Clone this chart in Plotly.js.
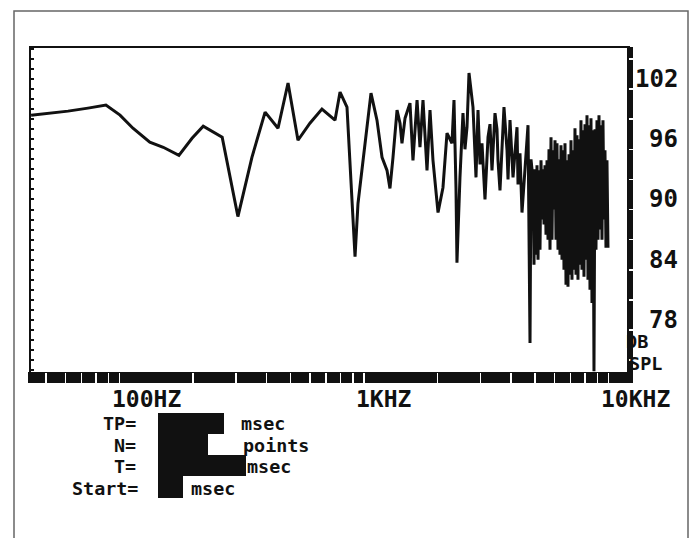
<!DOCTYPE html>
<html>
<head>
<meta charset="utf-8">
<script src="https://cdn.plot.ly/plotly-3.0.1.min.js"></script>
<style>html,body{margin:0;padding:0;background:#fff;}#chart{width:699px;height:538px;}</style>
</head>
<body>
<div id="chart"></div>
<script>
// Frequency response (Hz) and level (dB SPL)
const freqHz = [
  43.5, 52.0, 61.6, 74.3, 88.0, 100.5, 113.5, 133, 151, 175, 198, 220, 255, 263, 305, 348, 394, 445, 489, 537,
  601, 673, 761, 798, 852, 893, 919, 945, 991, 1068, 1130, 1185, 1242, 1277, 1314, 1365, 1404, 1430, 1472, 1542,
  1586, 1648, 1694, 1743, 1810, 1862, 1915, 1989, 2008, 2104, 2185, 2290, 2334, 2378, 2400, 2469, 2540, 2588, 2638, 2688,
  2791, 2871, 2926, 2982, 3038, 3125, 3215, 3276, 3338, 3434, 3499, 3532, 3599, 3737, 3845, 3882, 3955, 4069, 4225, 4265,
  4345, 4428, 4555, 4686, 4775,
  4820, 4866, 4912, 4958, 5005, 5053, 5100, 5149, 5197, 5246, 5296, 5346, 5397, 5448, 5499, 5551, 5604, 5657, 5710, 5764,
  5819, 5874, 5929, 5985, 6042, 6099, 6157, 6215, 6274, 6333, 6393, 6453, 6514, 6576, 6638, 6701, 6764, 6828, 6893, 6958,
  7024, 7090, 7157, 7225, 7293, 7362, 7432, 7502, 7573, 7645, 7717, 7790, 7864, 7938, 8013, 8089, 8166, 8243, 8321, 8400,
  8479, 8559, 8640, 8722, 8805, 8888, 8972, 9057, 9143, 9229, 9316, 9405, 9493, 9583, 9674, 9765, 9858, 9951
];
const splDb = [
  98.4, 98.6, 98.8, 99.1, 99.4, 98.4, 97.1, 95.7, 95.2, 94.4, 96.1, 97.3, 96.4, 96.2, 88.3, 94.2, 98.7, 97.1, 101.6, 95.9,
  97.6, 99.0, 97.9, 100.7, 99.2, 89.6, 84.3, 89.6, 93.9, 100.6, 97.9, 94.2, 92.9, 91.1, 94.2, 98.9, 97.6, 95.6, 98.1, 99.6,
  93.9, 99.9, 95.2, 99.9, 92.9, 98.9, 93.9, 89.3, 88.7, 91.2, 96.6, 95.6, 99.9, 91.2, 83.7, 92.2, 98.6, 95.0, 97.2, 102.6,
  99.2, 92.2, 98.9, 93.5, 95.6, 90.0, 96.2, 97.5, 92.9, 98.6, 97.0, 93.9, 90.9, 99.2, 94.9, 92.0, 97.9, 92.2, 97.2, 91.5,
  94.6, 88.7, 92.9, 97.4, 75.7,
  94.0, 93.0, 92.6, 83.5, 93.0, 84.5, 93.4, 84.0, 92.9, 85.0, 93.9, 88.0, 93.0, 87.5, 93.4, 86.5, 93.9, 86.0, 95.0, 85.0,
  96.2, 86.0, 94.9, 89.0, 95.9, 86.0, 95.6, 85.0, 94.0, 84.5, 95.4, 84.0, 94.9, 83.0, 95.6, 81.5, 93.9, 81.3, 94.5, 82.5,
  95.9, 82.0, 94.9, 83.0, 97.1, 82.5, 96.4, 82.0, 96.0, 83.5, 97.9, 83.0, 96.9, 82.3, 97.5, 84.0, 98.4, 82.0, 97.4, 81.0,
  98.1, 79.7, 96.9, 72.9, 97.0, 85.0, 97.9, 86.0, 98.4, 87.0, 97.4, 86.0, 97.9, 88.0, 94.9, 85.2, 93.9, 85.2
];
const xTickValues = [100, 1000, 10000];
const xTickLabels = ['100HZ', '1KHZ', '10KHZ'];
const yTickValues = [102, 96, 90, 84, 78];
const yTickLabels = ['102', '96', '90', '84', '78'];
const minorFreqs = [50,60,70,80,90,100,200,300,400,500,600,700,800,900,1000,2000,3000,4000,5000,6000,7000,8000,9000,10000];
const infoLabels = ['TP=', 'N=', 'T=', 'Start='];
const infoUnits = ['msec', 'points', 'msec', 'msec'];

// plot area in pixels: x 30..628, y 47..372
const L = 30, R = 628, T = 47, B = 372;
const px = x => (x - L) / (R - L);
const py = y => (B - y) / (B - T);

const FAM = 'DejaVu Sans Mono';
const font = s => ({family: FAM, size: s, color: '#111', weight: 'bold'});

const annotations = [];
xTickValues.forEach((v, i) => annotations.push({
  xref: 'x', yref: 'paper', x: Math.log10(v), y: py(399), text: xTickLabels[i],
  xanchor: 'left', yanchor: 'middle', xshift: -9, showarrow: false, borderpad: 0, font: font(23)
}));
yTickValues.forEach((v, i) => annotations.push({
  xref: 'paper', yref: 'y', x: px(679), y: v, text: yTickLabels[i],
  xanchor: 'right', yanchor: 'middle', showarrow: false, borderpad: 0, font: font(24)
}));
annotations.push({xref:'paper', yref:'paper', x: px(625), y: py(341), text:'DB', xanchor:'left', yanchor:'middle', showarrow:false, borderpad:0, font: font(18.5)});
annotations.push({xref:'paper', yref:'paper', x: px(628), y: py(363.5), text:'SPL', xanchor:'left', yanchor:'middle', showarrow:false, borderpad:0, font: font(18.5)});

const rowY = [423.5, 445, 466.5, 488];
const labelRight = [137, 137, 137, 139];
const unitLeft = [240, 242, 246, 190];
infoLabels.forEach((t, i) => {
  annotations.push({xref:'paper', yref:'paper', x: px(labelRight[i]), y: py(rowY[i]), text: t,
    xanchor:'right', yanchor:'middle', showarrow:false, borderpad:0, font: font(18.4)});
  annotations.push({xref:'paper', yref:'paper', x: px(unitLeft[i]), y: py(rowY[i]), text: infoUnits[i],
    xanchor:'left', yanchor:'middle', showarrow:false, borderpad:0, font: font(18.4)});
});

const rectPx = (x0, y0, x1, y1, extra) => Object.assign({
  type:'rect', xref:'paper', yref:'paper', x0: px(x0), x1: px(x1), y0: py(y1), y1: py(y0),
  fillcolor:'#111', line:{width:0}, layer:'below'
}, extra || {});

const shapes = [
  // outer frame
  {type:'rect', xref:'paper', yref:'paper', x0: px(14), x1: px(688), y0: py(560), y1: py(11),
   line:{color:'#666', width:1.5}, fillcolor:'rgba(0,0,0,0)', layer:'below'},
  // bottom thick bar
  rectPx(28, 372, 633, 383),
  // right thick bar
  rectPx(627, 47, 633, 383),
  // top border
  rectPx(29, 46, 630, 48),
  // left border
  rectPx(29, 46, 31, 383),
  // redacted value fields
  rectPx(158, 413, 224, 434, {layer:'above'}),
  rectPx(158, 434, 208, 455, {layer:'above'}),
  rectPx(158, 455, 246, 476, {layer:'above'}),
  rectPx(158, 476, 183, 498, {layer:'above'})
];

const yRange = [102 - (B - 79) / 10.04, 102 + (79 - T) / 10.04];
const xRange = [2 + (L - 119.5) / 244.5, 2 + (R - 119.5) / 244.5];

const traces = [
  {x: freqHz, y: splDb, type:'scatter', mode:'lines', line:{color:'#111', width:3}, hoverinfo:'skip'},
  {x: freqHz, y: splDb, type:'scatter', mode:'lines', line:{color:'rgba(0,0,0,0)', width:0}, hoverinfo:'skip', yaxis:'y2', showlegend:false}
];

const layout = {
  width: 699, height: 538,
  margin: {l: L, r: 699 - R, t: T, b: 538 - B, pad: 0},
  paper_bgcolor:'#fff', plot_bgcolor:'#fff',
  showlegend:false,
  xaxis: {type:'log', range: xRange, showgrid:false, zeroline:false, showline:false,
    ticks:'outside', ticklen:11, tickwidth:1.5, tickcolor:'#fff', tickvals: minorFreqs, showticklabels:false, fixedrange:true},
  yaxis: {range: yRange, showgrid:false, zeroline:false, showline:false,
    ticks:'inside', ticklen:4, tickwidth:2, tickcolor:'#111', tick0:0, dtick:1, showticklabels:false, fixedrange:true},
  yaxis2: {range: yRange, overlaying:'y', side:'right', showgrid:false, zeroline:false, showline:false,
    ticks:'outside', ticklen:6, tickwidth:1.5, tickcolor:'#fff', tick0:98, dtick:3, showticklabels:false, fixedrange:true},
  annotations, shapes
};

Plotly.newPlot('chart', traces, layout, {displayModeBar:false, staticPlot:true});
</script>
</body>
</html>
